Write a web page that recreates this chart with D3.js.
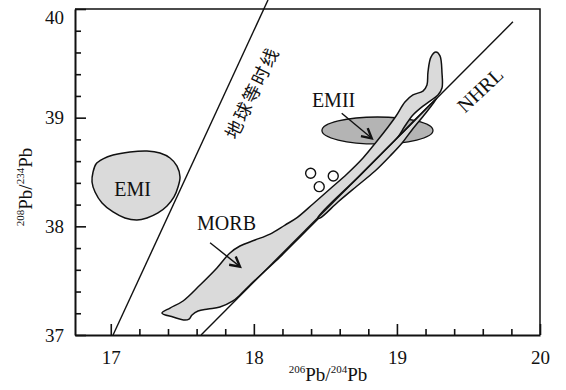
<!DOCTYPE html>
<html>
<head>
<meta charset="utf-8">
<script src="https://cdn.jsdelivr.net/npm/d3@7"></script>
<style>
body { margin: 0; background: #fff; }
svg { display: block; font-family: "Liberation Serif", "Times New Roman", serif; }
</style>
</head>
<body>
<script>

const xTicks = [17, 18, 19, 20];
const yTicks = [37, 38, 39, 40];
const xMinor = [17.2, 17.4, 17.6, 17.8, 18.2, 18.4, 18.6, 18.8, 19.2, 19.4, 19.6, 19.8];
const yMinor = [37.2, 37.4, 37.6, 37.8, 38.2, 38.4, 38.6, 38.8, 39.2, 39.4, 39.6, 39.8];

// field outlines, 206Pb/204Pb vs 208Pb/204Pb
const emiField = [
    [16.876,38.500],[16.897,38.574],[16.946,38.620],[17.016,38.656],[17.134,38.684],
    [17.253,38.693],[17.344,38.675],[17.414,38.629],[17.463,38.555],[17.484,38.454],
    [17.470,38.362],[17.442,38.270],[17.393,38.187],[17.330,38.123],[17.253,38.077],
    [17.183,38.058],[17.099,38.077],[17.016,38.132],[16.939,38.215],[16.890,38.316],
    [16.869,38.408]
];

const morbField = [
    [17.358,37.202],[17.414,37.248],[17.505,37.313],[17.624,37.460],[17.742,37.617],
    [17.833,37.755],[17.903,37.819],[18.008,37.874],[18.113,37.929],[18.218,38.012],
    [18.302,38.080],[18.413,38.206],[18.532,38.344],[18.651,38.482],[18.763,38.629],
    [18.861,38.785],[18.938,38.914],[18.994,39.015],[19.056,39.144],[19.112,39.209],
    [19.182,39.245],[19.210,39.301],[19.217,39.420],[19.238,39.558],[19.273,39.604],
    [19.301,39.568],[19.315,39.411],[19.315,39.273],[19.287,39.209],[19.231,39.153],
    [19.182,39.107],[19.112,39.025],[19.056,38.923],[19.008,38.822],[18.952,38.730],
    [18.882,38.638],[18.777,38.500],[18.672,38.362],[18.567,38.224],[18.462,38.086],
    [18.323,37.902],[18.183,37.718],[18.078,37.589],[17.973,37.460],[17.903,37.368],
    [17.854,37.313],[17.763,37.258],[17.680,37.239],[17.610,37.221],[17.568,37.184],
    [17.547,37.147],[17.519,37.138],[17.435,37.166]
];

// thin lens on the right side of the NHRL
const lensField = [
    [18.448,38.080],[18.742,38.469],[19.022,38.840],[19.280,39.181],[19.196,39.034],
    [19.105,38.887],[19.036,38.767],[18.952,38.647],[18.847,38.509],[18.721,38.371],
    [18.588,38.224],[18.462,38.077]
];

const emiiCenter = [18.864, 38.882];
const emiiRadius = [0.388, 0.124];

const samples = [[18.397,38.488],[18.457,38.365],[18.555,38.463]];

const geochron = [[17.016,37.0],[18.099,40.083]];
const nhrl = [[17.631,37.0],[19.811,39.883]];

const arrows = [
    [[18.614,39.040],[18.824,38.810]],
    [[17.694,37.849],[17.903,37.629]]
];

const labelText = ['EMI', 'MORB', 'EMII'];
const labelPos = [[17.153,38.279],[17.809,37.966],[18.557,39.101]];

const lineLabels = ['地球等时线', 'NHRL'];
const lineLabelPos = [[17.980,39.236],[19.581,39.255]];


function draw () {
    const width = 566;
    const height = 390;

    const svg = d3.select('body').append('svg')
        .attr('width', width)
        .attr('height', height);

    const X = d3.scaleLinear().domain([16.75, 20]).range([75, 540]);
    const Y = d3.scaleLinear().domain([37, 40]).range([335, 9]);

    const line = d3.line().x(d => X(d[0])).y(d => Y(d[1]));
    const blob = d3.line().x(d => X(d[0])).y(d => Y(d[1])).curve(d3.curveCatmullRomClosed.alpha(0.5));

    // top and right of the frame
    svg.append('path')
        .attr('d', line([[16.75, 40], [20, 40], [20, 37]]))
        .attr('fill', 'none')
        .attr('stroke', '#111')
        .attr('stroke-width', 1.5);

    // EMII
    svg.append('ellipse')
        .attr('cx', X(emiiCenter[0]))
        .attr('cy', Y(emiiCenter[1]))
        .attr('rx', X(emiiCenter[0] + emiiRadius[0]) - X(emiiCenter[0]))
        .attr('ry', Y(emiiCenter[1]) - Y(emiiCenter[1] + emiiRadius[1]))
        .attr('fill', '#b4b4b4')
        .attr('stroke', '#111')
        .attr('stroke-width', 1.3);

    // EMI, MORB
    [emiField, morbField, lensField].forEach(f => {
        svg.append('path')
            .attr('d', blob(f))
            .attr('fill', '#dadada')
            .attr('stroke', '#111')
            .attr('stroke-width', 1.5);
    });

    // reference lines
    [geochron, nhrl].forEach(l => {
        svg.append('path')
            .attr('d', line(l))
            .attr('fill', 'none')
            .attr('stroke', '#111')
            .attr('stroke-width', 1.4);
    });

    // samples
    svg.selectAll('circle.sample')
        .data(samples)
        .join('circle')
        .attr('class', 'sample')
        .attr('cx', d => X(d[0]))
        .attr('cy', d => Y(d[1]))
        .attr('r', 5)
        .attr('fill', '#fff')
        .attr('stroke', '#111')
        .attr('stroke-width', 1.4);

    // arrows
    arrows.forEach(a => {
        const x1 = X(a[0][0]), y1 = Y(a[0][1]);
        const x2 = X(a[1][0]), y2 = Y(a[1][1]);
        const ang = Math.atan2(y2 - y1, x2 - x1);
        const len = 11, spread = 0.5;
        svg.append('line')
            .attr('x1', x1).attr('y1', y1)
            .attr('x2', x2).attr('y2', y2)
            .attr('stroke', '#111')
            .attr('stroke-width', 1.4);
        svg.append('path')
            .attr('d', `M${x2 - len * Math.cos(ang - spread)},${y2 - len * Math.sin(ang - spread)}L${x2},${y2}L${x2 - len * Math.cos(ang + spread)},${y2 - len * Math.sin(ang + spread)}`)
            .attr('fill', 'none')
            .attr('stroke', '#111')
            .attr('stroke-width', 2.4);
    });

    // field labels
    labelText.forEach((t, i) => {
        svg.append('text')
            .attr('x', X(labelPos[i][0]))
            .attr('y', Y(labelPos[i][1]))
            .attr('text-anchor', 'middle')
            .attr('font-size', 20)
            .attr('fill', '#111')
            .text(t);
    });

    // line labels
    svg.append('text')
        .attr('transform', `translate(${X(lineLabelPos[0][0])},${Y(lineLabelPos[0][1])}) rotate(-64)`)
        .attr('text-anchor', 'middle')
        .attr('dominant-baseline', 'central')
        .attr('font-family', '"Noto Sans CJK SC", sans-serif')
        .attr('font-size', 18)
        .attr('letter-spacing', 2)
        .attr('fill', '#111')
        .text(lineLabels[0]);

    svg.append('text')
        .attr('transform', `translate(${X(lineLabelPos[1][0])},${Y(lineLabelPos[1][1])}) rotate(-43)`)
        .attr('text-anchor', 'middle')
        .attr('dominant-baseline', 'central')
        .attr('font-size', 20)
        .attr('fill', '#111')
        .text(lineLabels[1]);

    // axes, ticks pointing inward
    const xAxis = d3.axisBottom(X)
        .tickValues(xTicks)
        .tickSizeInner(-11)
        .tickSizeOuter(0)
        .tickPadding(16)
        .tickFormat(d3.format('d'));

    const yAxis = d3.axisLeft(Y)
        .tickValues(yTicks)
        .tickSizeInner(-11)
        .tickSizeOuter(0)
        .tickPadding(11)
        .tickFormat(d3.format('d'));

    const gx = svg.append('g')
        .attr('transform', `translate(0 ${Y(37)})`)
        .call(xAxis);
    gx.append('g')
        .call(d3.axisBottom(X).tickValues(xMinor).tickSize(-6).tickFormat(''))
        .call(g => g.select('.domain').remove());

    const gy = svg.append('g')
        .attr('transform', `translate(${X(16.75)} 0)`)
        .call(yAxis);
    gy.append('g')
        .call(d3.axisLeft(Y).tickValues(yMinor).tickSize(-6).tickFormat(''))
        .call(g => g.select('.domain').remove());

    [gx, gy].forEach(g => {
        g.attr('font-family', '"Liberation Serif", serif').attr('font-size', 19);
        g.selectAll('path.domain').attr('stroke', '#111').attr('stroke-width', 2);
        g.selectAll('.tick line').attr('stroke', '#111').attr('stroke-width', 1.6);
        g.selectAll('.tick text').attr('fill', '#111');
    });
    gy.selectAll('.tick text').filter(d => d === 40).attr('dy', '0.75em');

    // axis titles
    const xt = svg.append('text')
        .attr('x', 328)
        .attr('y', 381)
        .attr('text-anchor', 'middle')
        .attr('font-size', 19)
        .attr('fill', '#111');
    xt.append('tspan').attr('font-size', 11).attr('dy', -8).text('206');
    xt.append('tspan').attr('dy', 8).text('Pb/');
    xt.append('tspan').attr('font-size', 11).attr('dy', -8).text('204');
    xt.append('tspan').attr('dy', 8).text('Pb');

    const yt = svg.append('text')
        .attr('transform', 'translate(32 187) rotate(-90)')
        .attr('text-anchor', 'middle')
        .attr('font-size', 19)
        .attr('fill', '#111');
    yt.append('tspan').attr('font-size', 11).attr('dy', -8).text('208');
    yt.append('tspan').attr('dy', 8).text('Pb/');
    yt.append('tspan').attr('font-size', 11).attr('dy', -8).text('234');
    yt.append('tspan').attr('dy', 8).text('Pb');
}


draw();
</script>
</body>
</html>
